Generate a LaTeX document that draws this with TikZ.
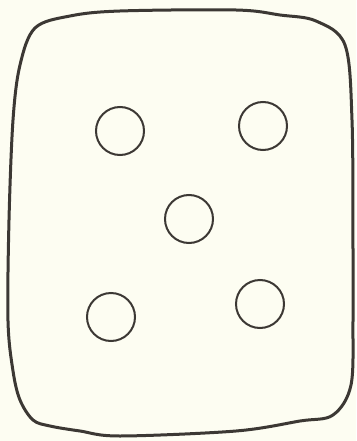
\documentclass[tikz,border=0pt]{standalone}
\definecolor{paper}{RGB}{253,253,242}
\definecolor{ink}{RGB}{60,56,52}
\begin{document}
\begin{tikzpicture}[x=1pt,y=-1pt,
  outline/.style={draw=ink,line width=3pt,line join=round},
  pip/.style={circle,draw=ink,line width=2pt,minimum size=48pt,inner sep=0pt}]
\fill[paper] (0,0) rectangle (356,441);
\useasboundingbox (0,0) rectangle (356,441);
\draw[outline] plot[smooth cycle,tension=0.55] coordinates {
 (35,28) (70,16) (120,11) (236,10) (280,15) (316,21) (345,45)
 (352,120) (353,250) (353,321) (351,385) (333,415) (300,421)
 (236,431) (120,436) (80,431) (50,426) (33,420) (20,400) (13,371)
 (8,321) (9,220) (13,120) (20,65)};
\node[pip] (tl) at (120,131) {};
\node[pip] (tr) at (263,126) {};
\node[pip] (c) at (189,219) {};
\node[pip] (bl) at (111,317) {};
\node[pip] (br) at (260,304) {};
\end{tikzpicture}
\end{document}
